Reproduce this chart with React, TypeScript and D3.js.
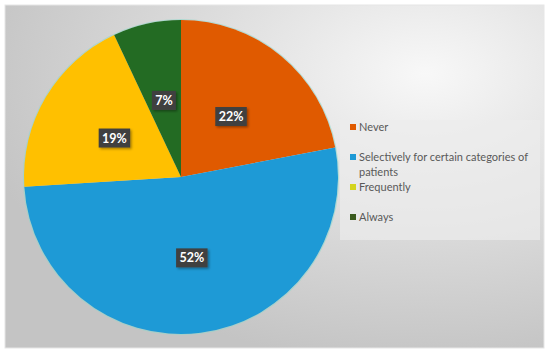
import React from "react";
import * as d3 from "d3";

const categories = ["Never", "Selectively for certain categories of patients", "Frequently", "Always"];
const values = [22, 52, 19, 7];
const labels = ["22%", "52%", "19%", "7%"];
const colors = ["#E05A00", "#1E9AD6", "#FFC000", "#236B23"];
const legendColors = ["#E05A00", "#1E9AD6", "#D4D41E", "#3A5A1E"];
const legendLines = [["Never"], ["Selectively for certain categories of", "patients"], ["Frequently"], ["Always"]];

export default function App() {
  const W = 550, H = 355;
  const cx = 181, cy = 177, r = 157;
  const pie = d3.pie<number>().sort(null).value((d) => d);
  const arcs = pie(values);
  const arc = d3.arc<d3.PieArcDatum<number>>().innerRadius(0).outerRadius(r);
  const labelArc = d3.arc<d3.PieArcDatum<number>>().innerRadius(r * 0.5).outerRadius(r * 0.5);
  const labelOffsets = [[0, 0], [1, 3], [1, 1], [0, 0]];
  const legendY = [127, 157, 187, 217];
  return (
    <div style={{ position: "absolute", left: 0, top: 0 }}>
      <svg width={W} height={H} style={{ display: "block" }}>
        <defs>
          <radialGradient id="bg" cx="0.78" cy="0.2" r="0.85">
            <stop offset="0" stopColor="#f8f8f8" />
            <stop offset="0.55" stopColor="#dadada" />
            <stop offset="1" stopColor="#c4c4c4" />
          </radialGradient>
          <filter id="sh" x="-30%" y="-30%" width="160%" height="160%">
            <feDropShadow dx="1.5" dy="1.5" stdDeviation="1.2" floodColor="#000" floodOpacity="0.35" />
          </filter>
        </defs>
        <rect x={0} y={0} width={W} height={H} fill="#ffffff" />
        <rect x={5} y={5} width={539} height={343} fill="url(#bg)" stroke="#e6e6e6" strokeWidth={1} />
        <g transform={`translate(${cx},${cy})`}>
          <circle r={r + 0.5} fill="none" stroke="#8fd9cc" strokeWidth={1.2} opacity={0.6} />
          {arcs.map((a, i) => (
            <path key={i} d={arc(a) || ""} fill={colors[i]} />
          ))}
          {arcs.map((a, i) => {
            const [x, y] = labelArc.centroid(a);
            const lx = x + labelOffsets[i][0];
            const ly = y + labelOffsets[i][1];
            const w = labels[i].length * 7.5 + 9;
            return (
              <g key={"l" + i} transform={`translate(${lx},${ly})`}>
                <rect x={-w / 2} y={-9.5} width={w} height={19} fill="#404040" filter="url(#sh)" />
                <text textAnchor="middle" dy="0.36em" fill="#ffffff" fontFamily="Lato, 'Open Sans', sans-serif" fontWeight="bold" fontSize={12.5}>
                  {labels[i]}
                </text>
              </g>
            );
          })}
        </g>
        <rect x={340} y={120} width={200} height={120} fill="#ececec" opacity={0.7} />
        {categories.map((c, i) => (
          <g key={c} transform={`translate(350,${legendY[i]})`}>
            <rect x={0} y={-3} width={6} height={6} fill={legendColors[i]} />
            {legendLines[i].map((t, j) => (
              <text key={j} x={9} y={j * 15} dy="0.35em" fill="#595959" fontFamily="Lato, 'Open Sans', sans-serif" fontSize={11}>
                {t}
              </text>
            ))}
          </g>
        ))}
      </svg>
    </div>
  );
}
